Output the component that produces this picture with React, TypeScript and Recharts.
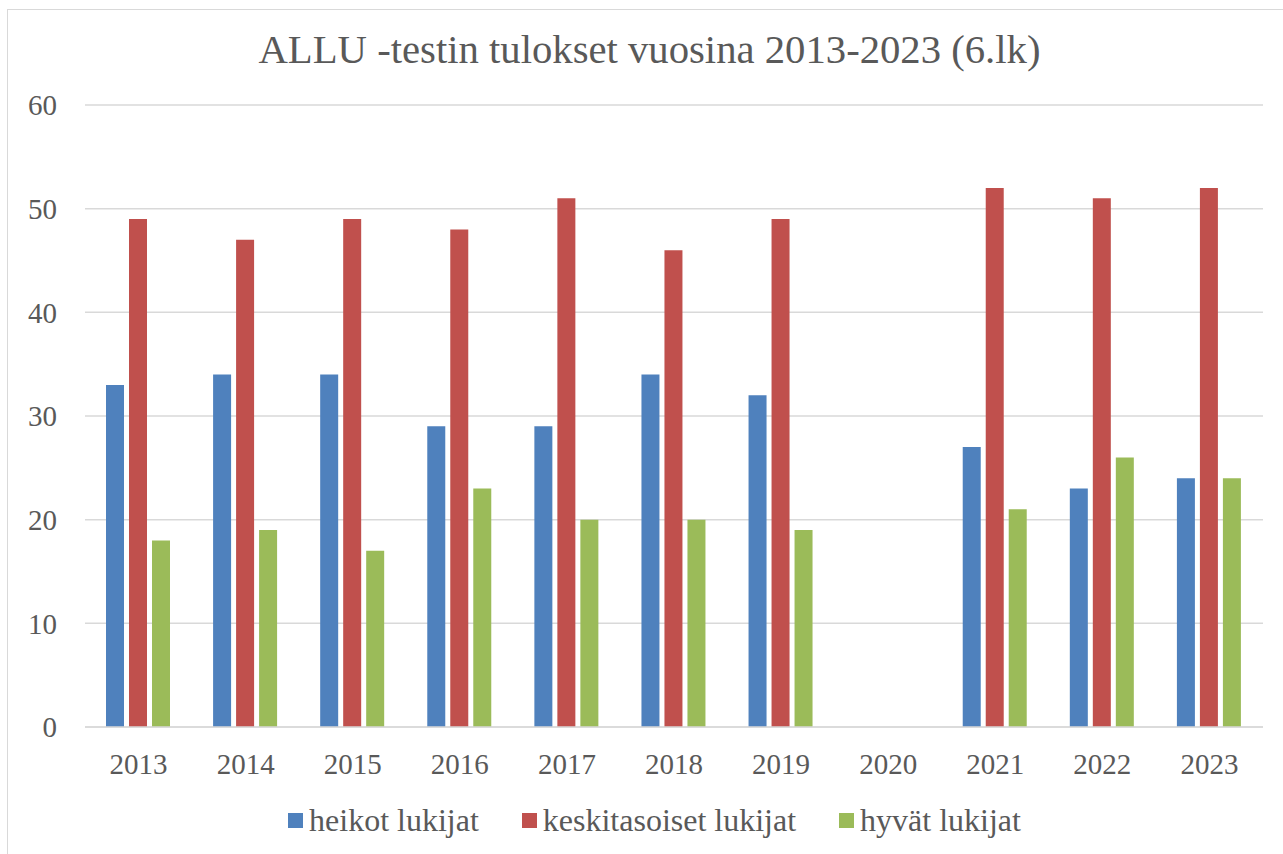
import React from 'react';
import { BarChart, Bar, XAxis, YAxis, CartesianGrid, Legend } from 'recharts';

const years = ['2013', '2014', '2015', '2016', '2017', '2018', '2019', '2020', '2021', '2022', '2023'];
const heikot = [33, 34, 34, 29, 29, 34, 32, null, 27, 23, 24];
const keskitasoiset = [49, 47, 49, 48, 51, 46, 49, null, 52, 51, 52];
const hyvat = [18, 19, 17, 23, 20, 20, 19, null, 21, 26, 24];
const yTicks = [0, 10, 20, 30, 40, 50, 60];

const series = [
  { key: 'heikot', name: 'heikot lukijat', color: '#4F81BD' },
  { key: 'keskitasoiset', name: 'keskitasoiset lukijat', color: '#C0504D' },
  { key: 'hyvat', name: 'hyvät lukijat', color: '#9BBB59' }
];

const data = years.map((year, i) => ({
  year,
  heikot: heikot[i],
  keskitasoiset: keskitasoiset[i],
  hyvat: hyvat[i]
}));

const FONT = '"Liberation Serif", "DejaVu Serif", serif';
const TEXT = '#595959';
const GRID = '#D9D9D9';

const renderLegend = () => (
  <div style={{ display: 'flex', justifyContent: 'center', alignItems: 'center', gap: 43, paddingLeft: 26 }}>
    {series.map(s => (
      <div key={s.key} style={{ display: 'flex', alignItems: 'center' }}>
        <span style={{ width: 15, height: 15, background: s.color, display: 'inline-block', marginRight: 6 }} />
        <span style={{ fontFamily: FONT, fontSize: 32, color: TEXT, lineHeight: 1 }}>{s.name}</span>
      </div>
    ))}
  </div>
);

const App = () => {
  return <div style={{ position: 'absolute', left: 0, top: 0, width: 1283, height: 854, overflow: 'hidden', background: '#fff' }}>
      <div style={{ position: 'absolute', left: 7, top: 9, width: 1400, height: 1000, border: `1.5px solid ${GRID}` }} />
      <div style={{
        position: 'absolute', left: 0, top: 30, width: 1283, paddingLeft: 16, boxSizing: 'border-box',
        textAlign: 'center', fontFamily: FONT, fontSize: 40.7, lineHeight: 1, color: TEXT
      }}>
        ALLU -testin tulokset vuosina 2013-2023 (6.lk)
      </div>
      <div style={{ position: 'absolute', left: 0, top: 0 }}>
        <BarChart
          width={1283}
          height={854}
          data={data}
          margin={{ top: 105, right: 20, bottom: 67, left: 0 }}
          barCategoryGap={21}
          barGap={5}
        >
          <CartesianGrid vertical={false} stroke={GRID} strokeWidth={1.5} />
          <XAxis
            dataKey="year"
            height={60}
            axisLine={{ stroke: GRID, strokeWidth: 1.5 }}
            tickLine={false}
            tickSize={0}
            tickMargin={26}
            tick={{ fill: TEXT, fontFamily: FONT, fontSize: 29 }}
          />
          <YAxis
            width={85}
            domain={[0, 60]}
            ticks={yTicks}
            axisLine={false}
            tickLine={false}
            tickSize={0}
            tickMargin={28}
            tick={{ fill: TEXT, fontFamily: FONT, fontSize: 29 }}
          />
          <Legend
            layout="horizontal"
            verticalAlign="middle"
            align="center"
            content={renderLegend}
            wrapperStyle={{ top: 804, left: 0, width: 1283 }}
          />
          {series.map(s => (
            <Bar key={s.key} dataKey={s.key} name={s.name} fill={s.color} isAnimationActive={false} />
          ))}
        </BarChart>
      </div>
    </div>;
};

export default App;
